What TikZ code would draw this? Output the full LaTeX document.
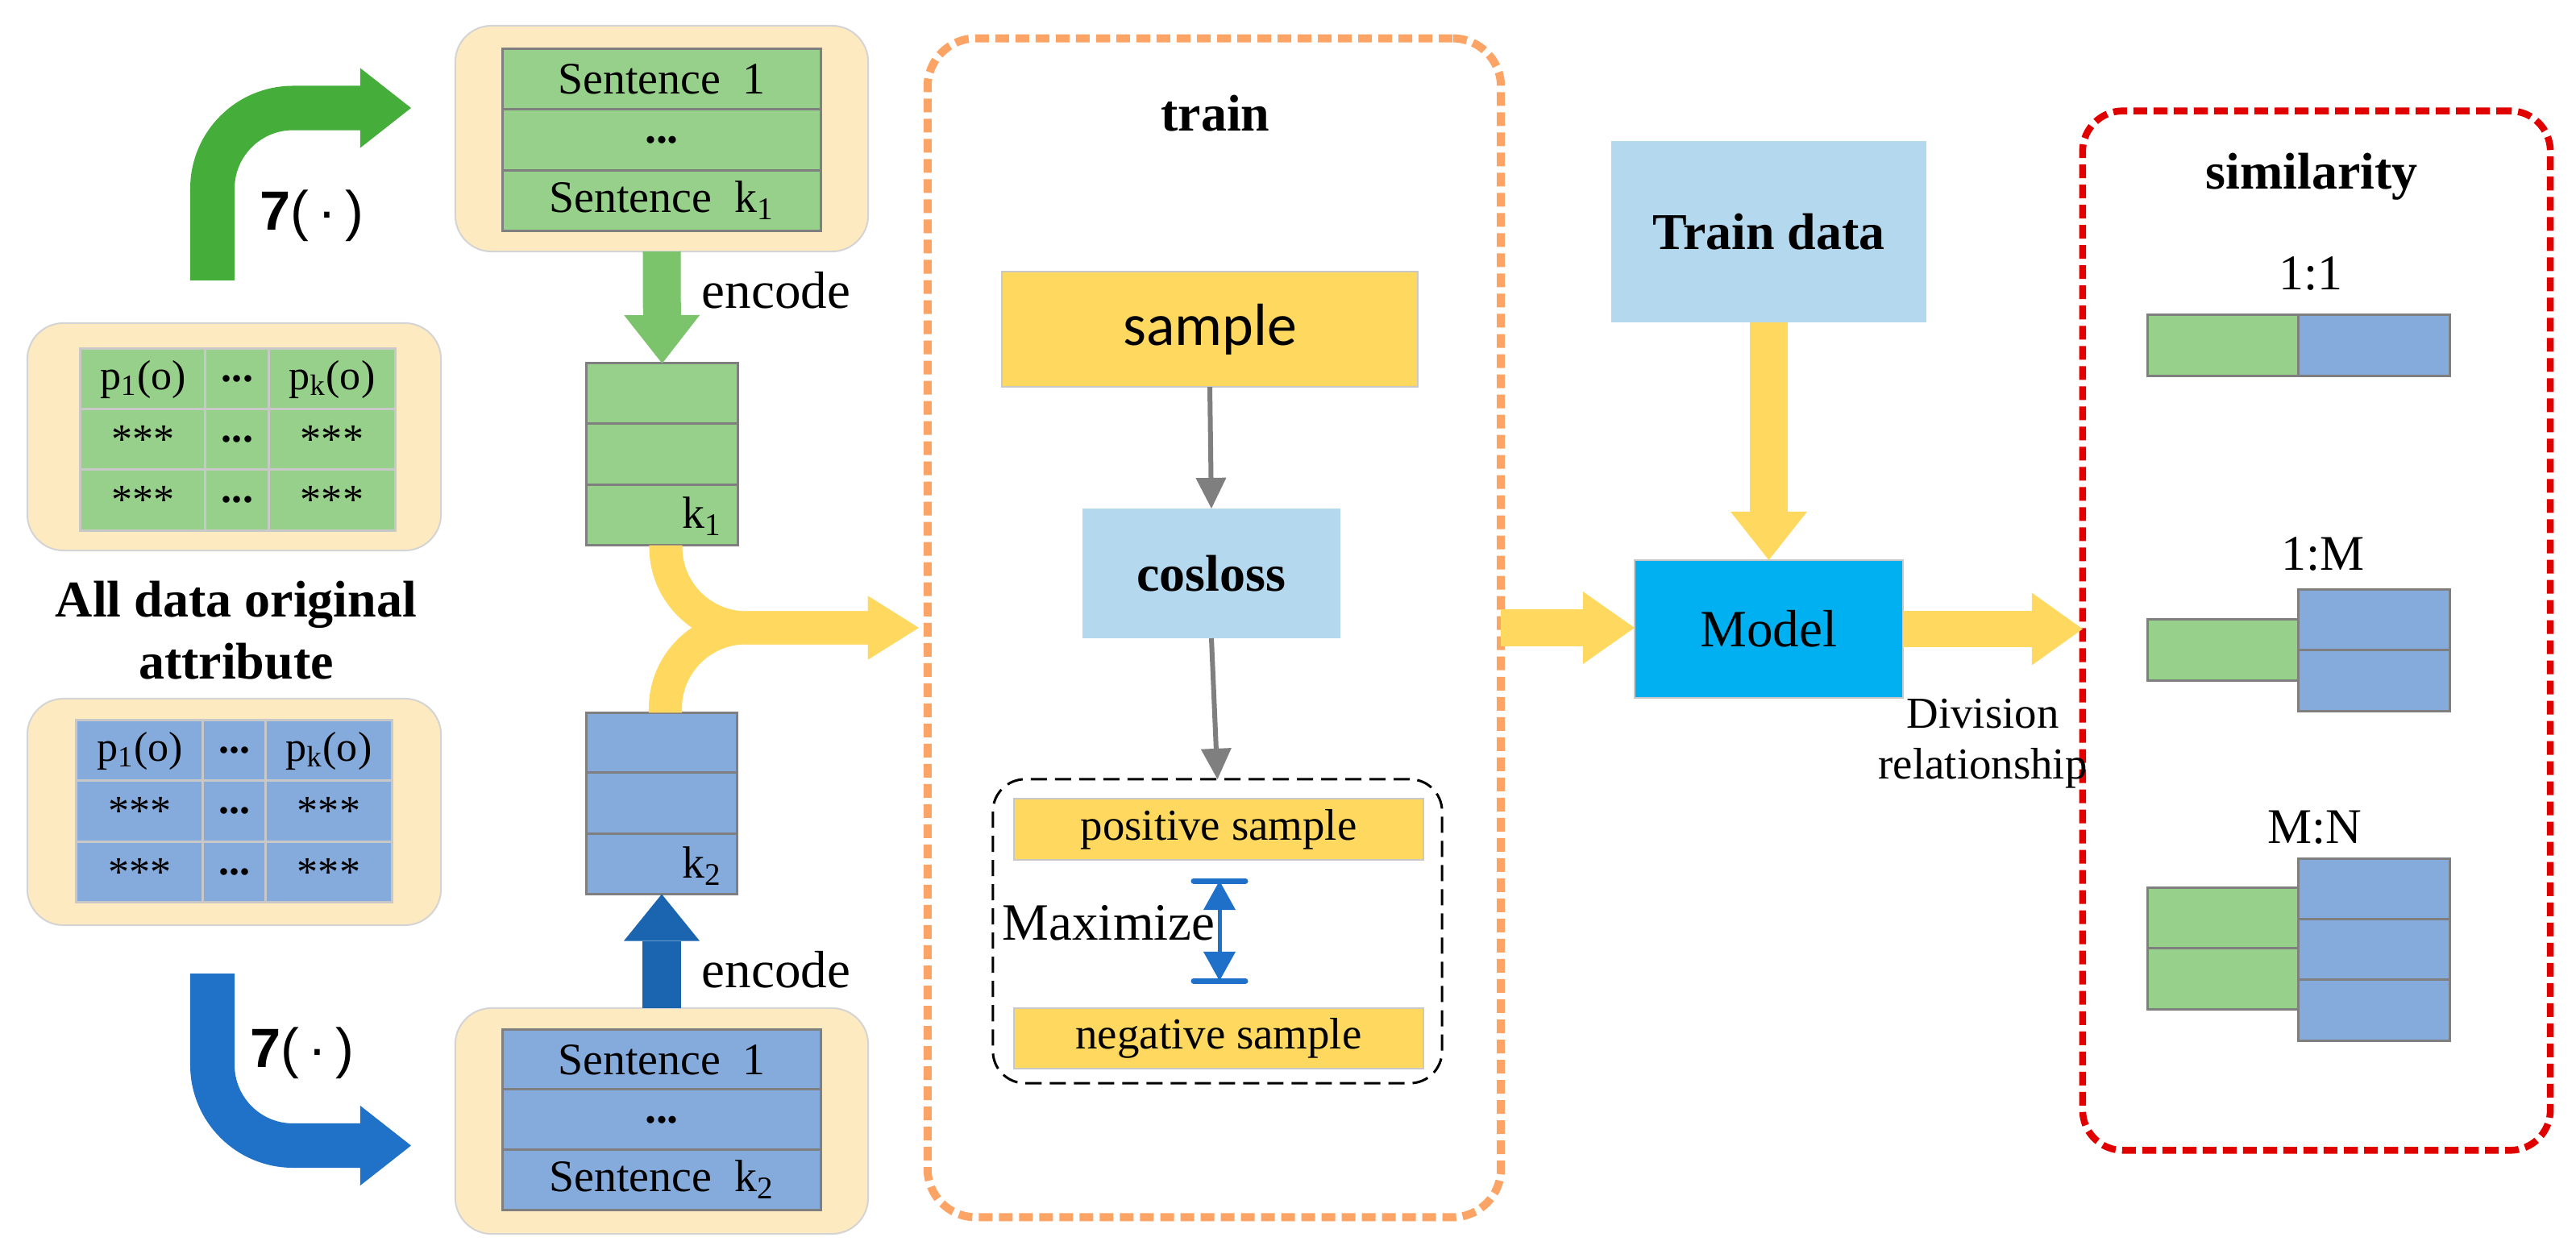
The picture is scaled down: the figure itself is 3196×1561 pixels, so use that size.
\documentclass[tikz,border=0pt]{standalone}
\usepackage{fontspec}
\setmainfont{Liberation Serif}
\newfontfamily\carlitofont{Carlito}
\newfontfamily\libsans{Liberation Sans}
\usetikzlibrary{arrows.meta,calc}
\definecolor{cgreen}{HTML}{97D08A}
\definecolor{cblue}{HTML}{85ABDC}
\definecolor{cbeige}{HTML}{FEEAC1}
\definecolor{cyellow}{HTML}{FFD95F}
\definecolor{clblue}{HTML}{B4D8EE}
\definecolor{cmodel}{HTML}{00B0F0}
\definecolor{corange}{HTML}{FCA465}
\definecolor{cred}{HTML}{E00000}
\definecolor{cgarrow}{HTML}{45AD3A}
\definecolor{cgenc}{HTML}{7CC46B}
\definecolor{cbarrow}{HTML}{2072C8}
\definecolor{cbenc}{HTML}{1A64B0}
\definecolor{cmax}{HTML}{1F70C8}
\definecolor{cgrid}{HTML}{7F7F7F}
\definecolor{clgrid}{HTML}{C8C8C8}
\definecolor{cbeigeline}{HTML}{D4D4D4}
\newcommand\fHd{\fontsize{18.2pt}{21.9pt}\selectfont\bfseries}
\newcommand\fSent{\fontsize{15.9pt}{19pt}\selectfont}
\newcommand\fCell{\fontsize{14.8pt}{18pt}\selectfont}
\newcommand\fEnc{\fontsize{18.5pt}{22pt}\selectfont}
\newcommand\fRat{\fontsize{17.6pt}{21pt}\selectfont}
\newcommand\fPos{\fontsize{15.6pt}{19pt}\selectfont}
\newcommand\fDiv{\fontsize{15.6pt}{17.9pt}\selectfont}
\newcommand\fSmp{\fontsize{21pt}{25pt}\selectfont\carlitofont}
\newcommand\fSev{\fontsize{19.5pt}{23pt}\selectfont\libsans}
\tikzset{
  cellbase/.style={draw=cgrid, line width=0.03cm, inner sep=0pt, outer sep=0pt},
  vcellg/.style={cellbase, fill=cgreen, minimum width=1.87cm, minimum height=0.75cm},
  vcellb/.style={cellbase, fill=cblue, minimum width=1.87cm, minimum height=0.75cm},
  scellg/.style={cellbase, fill=cgreen, minimum width=3.94cm, minimum height=0.75cm, font=\fSent},
  scellb/.style={cellbase, fill=cblue, minimum width=3.94cm, minimum height=0.75cm, font=\fSent},
  tcell/.style={draw=clgrid, line width=0.03cm, inner sep=0pt, outer sep=0pt, minimum height=0.75cm, font=\fCell},
  tcellg/.style={tcell, fill=cgreen, minimum width=#1},
  tcellb/.style={tcell, fill=cblue, minimum width=#1},
  beigebox/.style={draw=cbeigeline, line width=0.02cm, fill=cbeige, rounded corners=0.45cm, inner sep=0pt, outer sep=0pt},
  plainbox/.style={inner sep=0pt, outer sep=0pt},
  fat/.style n args={4}{draw=#1, line width=#2, -{Triangle[length=#3, width=#4, line width=0pt]}},
  grayarr/.style={draw=cgrid, line width=0.06cm, -{Triangle[length=0.38cm, width=0.38cm, line width=0pt]}},
  mxarrow/.style={draw=cmax, line width=0.05cm, {Triangle[length=0.36cm, width=0.4cm, line width=0pt]}-{Triangle[length=0.36cm, width=0.4cm, line width=0pt]}},
  mxbar/.style={draw=cmax, line width=0.07cm, line cap=round},
  orangedash/.style={draw=corange, line width=0.1cm, dash pattern=on 0.17cm off 0.08cm, rounded corners=0.6cm, inner sep=0pt, outer sep=0pt},
  reddash/.style={draw=cred, line width=0.085cm, dash pattern=on 0.17cm off 0.08cm, rounded corners=0.5cm, inner sep=0pt, outer sep=0pt},
  blackdash/.style={draw=black, line width=0.03cm, dash pattern=on 0.2cm off 0.1cm, rounded corners=0.4cm, inner sep=0pt, outer sep=0pt},
}
\begin{document}
\begin{tikzpicture}[x=0.01cm,y=-0.01cm]
\useasboundingbox (0,0) rectangle (3196,1561);
\fill[white] (0,0) rectangle (3196,1561);

% ---------- left tables ----------
\node[beigebox, minimum width=5.13cm, minimum height=2.82cm] (gtab) at (290.5,542) {};
\node[tcellg=1.55cm] (g11) at (177.5,470.5) {p\textsubscript{1}(o)};
\node[tcellg=0.79cm] (g12) at (294.5,470.5) {\textbf{...}};
\node[tcellg=1.56cm] (g13) at (412,470.5) {p\textsubscript{k}(o)};
\node[tcellg=1.55cm] (g21) at (177.5,545.5) {***};
\node[tcellg=0.79cm] (g22) at (294.5,545.5) {\textbf{...}};
\node[tcellg=1.56cm] (g23) at (412,545.5) {***};
\node[tcellg=1.55cm] (g31) at (177.5,620.5) {***};
\node[tcellg=0.79cm] (g32) at (294.5,620.5) {\textbf{...}};
\node[tcellg=1.56cm] (g33) at (412,620.5) {***};

\node[beigebox, minimum width=5.13cm, minimum height=2.81cm] (btab) at (290.5,1007.5) {};
\node[tcellb=1.57cm] (b11) at (173.5,931.5) {p\textsubscript{1}(o)};
\node[tcellb=0.78cm] (b12) at (291,931.5) {\textbf{...}};
\node[tcellb=1.56cm] (b13) at (408,931.5) {p\textsubscript{k}(o)};
\node[tcellb=1.57cm] (b21) at (173.5,1006.5) {***};
\node[tcellb=0.78cm] (b22) at (291,1006.5) {\textbf{...}};
\node[tcellb=1.56cm] (b23) at (408,1006.5) {***};
\node[tcellb=1.57cm] (b31) at (173.5,1082) {***};
\node[tcellb=0.78cm] (b32) at (291,1082) {\textbf{...}};
\node[tcellb=1.56cm] (b33) at (408,1082) {***};

\node[plainbox, font=\fHd, align=center] (alldata) at (293,782) {All data original\\attribute};

% ---------- sentence boxes ----------
\node[beigebox, minimum width=5.12cm, minimum height=2.8cm] (sto) at (821,172) {};
\node[scellg] (st1) at (821,98.5) {Sentence~~1};
\node[scellg] (st2) at (821,173.5) {\textbf{...}};
\node[scellg] (st3) at (821,249) {Sentence~~k\textsubscript{1}};

\node[beigebox, minimum width=5.12cm, minimum height=2.8cm] (sbo) at (821,1391) {};
\node[scellb] (sb1) at (821,1315) {Sentence~~1};
\node[scellb] (sb2) at (821,1389.5) {\textbf{...}};
\node[scellb] (sb3) at (821,1464) {Sentence~~k\textsubscript{2}};

% ---------- curved arrows ----------
\coordinate (gstart) at (263.5,348);
\coordinate (gend) at (510,134);
\draw[fat={cgarrow}{0.55cm}{0.63cm}{0.99cm}, rounded corners=1cm] (gstart) |- (gend);
\node[plainbox, font=\fSev] (gfun) at (387,268) {\textbf{7}(\,·\,)};

\coordinate (bstart) at (263.5,1208);
\coordinate (bend) at (510,1421.5);
\draw[fat={cbarrow}{0.55cm}{0.63cm}{0.99cm}, rounded corners=1cm] (bstart) |- (bend);
\node[plainbox, font=\fSev] (bfun) at (375,1307) {\textbf{7}(\,·\,)};

% ---------- vectors ----------
\node[vcellg] (vg1) at (821.5,488.5) {};
\node[vcellg] (vg2) at (821.5,563.5) {};
\node[vcellg] (vg3) at (821.5,639) {};
\node[plainbox, font=\fSent] (k1lbl) at (871,641) {k\textsubscript{1}};

\node[vcellb] (vb1) at (821,922) {};
\node[vcellb] (vb2) at (821,996.5) {};
\node[vcellb] (vb3) at (821,1072) {};
\node[plainbox, font=\fSent] (k2lbl) at (871,1075) {k\textsubscript{2}};

% encode arrows
\draw[fat={cgenc}{0.47cm}{0.6cm}{0.94cm}] (sto.south) -- (vg1.north);
\draw[fat={cbenc}{0.47cm}{0.58cm}{0.94cm}] (sbo.north) -- (vb3.south);
\node[anchor=base west, inner sep=0pt, font=\fEnc] (enc1) at (870,383) {encode};
\node[anchor=base west, inner sep=0pt, font=\fEnc] (enc2) at (870,1225) {encode};

% ---------- train box ----------
\node[orangedash, minimum width=7.11cm, minimum height=14.62cm] (trainbox) at (1506.5,779) {};
\node[anchor=base, inner sep=0pt, font=\fHd] (trainlbl) at (1508,163) {train};
\node[plainbox, draw=clgrid, line width=0.02cm, fill=cyellow, minimum width=5.16cm, minimum height=1.43cm, font=\fSmp] (sample) at (1501,408.5) {sample};
\node[plainbox, fill=clblue, minimum width=3.2cm, minimum height=1.61cm, font=\fHd] (cosloss) at (1503,711.5) {cosloss};
\node[blackdash, minimum width=5.57cm, minimum height=3.77cm] (pairbox) at (1510.5,1155.5) {};
\node[plainbox, draw=clgrid, line width=0.02cm, fill=cyellow, minimum width=5.08cm, minimum height=0.76cm, font=\fPos] (pos) at (1512,1029) {positive sample};
\node[plainbox, draw=clgrid, line width=0.02cm, fill=cyellow, minimum width=5.08cm, minimum height=0.75cm, font=\fPos] (neg) at (1512,1288.5) {negative sample};
\draw[grayarr] (sample.south) -- (cosloss.north);
\draw[grayarr] (cosloss.south) -- (pairbox.north);

\coordinate (mxt) at (1513,1093);
\coordinate (mxb) at (1513,1217);
\draw[mxbar] (mxt) +(-32,0) -- +(32,0);
\draw[mxbar] (mxb) +(-32,0) -- +(32,0);
\draw[mxarrow] (mxt) -- (mxb);
\node[anchor=base west, inner sep=0pt, font=\fEnc] (maxlbl) at (1243,1166) {Maximize};

% merge arrow
\draw[fat={cyellow}{0.41cm}{0.63cm}{0.79cm}, rounded corners=1cm, shorten >=0.11cm] ($(vg3.south)+(4.5,0)$) |- (trainbox.west);
\draw[fat={cyellow}{0.41cm}{0.63cm}{0.79cm}, rounded corners=1cm, shorten >=0.11cm] ($(vb1.north)+(4.5,0)$) |- (trainbox.west);

% ---------- model ----------
\node[plainbox, fill=clblue, minimum width=3.91cm, minimum height=2.25cm, font=\fHd] (tdata) at (2194.5,287.5) {Train data};
\node[plainbox, draw=clgrid, line width=0.02cm, fill=cmodel, minimum width=3.33cm, minimum height=1.71cm, font=\fEnc] (model) at (2194.5,780.5) {Model};
\draw[fat={cyellow}{0.47cm}{0.6cm}{0.95cm}] (tdata.south) -- (model.north);
\draw[fat={cyellow}{0.45cm}{0.64cm}{0.9cm}] (trainbox.east) -- (trainbox.east -| model.west);

% ---------- similarity ----------
\node[reddash, minimum width=5.8cm, minimum height=12.89cm] (simbox) at (2874,782.5) {};
\draw[fat={cyellow}{0.45cm}{0.63cm}{0.9cm}] (model.east) -- (model.east -| simbox.west);
\node[plainbox, font=\fDiv, align=center] (divlbl) at (2460,922.5) {Division\\relationship};

\node[anchor=base, inner sep=0pt, font=\fHd] (simlbl) at (2868,235) {similarity};
\node[anchor=base, inner sep=0pt, font=\fRat] (l11) at (2867,360) {1:1};
\node[anchor=base, inner sep=0pt, font=\fRat] (l1m) at (2882,707) {1:M};
\node[anchor=base, inner sep=0pt, font=\fRat] (lmn) at (2872,1046) {M:N};

\node[vcellg] (r11g) at (2758.5,428.5) {};
\node[vcellb] (r11b) at (2945.5,428.5) {};

\node[vcellg] (r1mg) at (2758.5,806.5) {};
\node[vcellb] (r1mb1) at (2945.5,769.5) {};
\node[vcellb] (r1mb2) at (2945.5,844.5) {};

\node[vcellg] (rmng1) at (2758.5,1139.5) {};
\node[vcellg] (rmng2) at (2758.5,1214.5) {};
\node[vcellb] (rmnb1) at (2945.5,1103.5) {};
\node[vcellb] (rmnb2) at (2945.5,1178.5) {};
\node[vcellb] (rmnb3) at (2945.5,1253.5) {};
\end{tikzpicture}
\end{document}
